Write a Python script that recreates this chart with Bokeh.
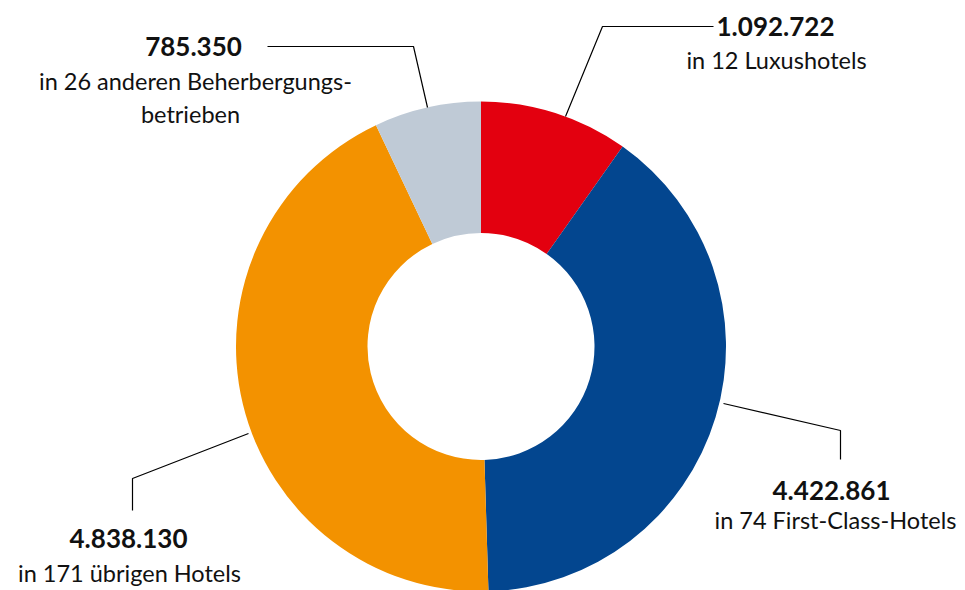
import numpy as np
from bokeh.plotting import figure
from bokeh.models import Range1d, ColumnDataSource
from bokeh.core.properties import value
from bokeh.embed import file_html
from bokeh.resources import INLINE

# ---- data ----
categories = ["Luxushotels", "First-Class-Hotels", "übrige Hotels", "andere Beherbergungsbetriebe"]
values = [1092722, 4422861, 4838130, 785350]
numbers = ["1.092.722", "4.422.861", "4.838.130", "785.350"]
subtitles = [["in 12 Luxushotels"], ["in 74 First-Class-Hotels"], ["in 171 übrigen Hotels"],
             ["in 26 anderen Beherbergungs-", "betrieben"]]
colors = ["#E3000F", "#03468F", "#F39200", "#BFCAD6"]

# ---- layout (reference pixel coordinates, y downward) ----
W, H = 965, 590
CX, CY = 480.5, 346
R_OUT, R_IN = 245, 113.5
FONT = "Lato"
# leader line points (from slice edge outward)
leaders = [
    [(565, 116), (602, 26), (713, 26)],
    [(723, 403), (840, 430), (840, 459)],
    [(248, 433), (132, 478), (132, 510)],
    [(427, 107), (413, 46), (267, 46)],
]
label_pos = [(775, 26), (831, 490), (128, 538), (193, 46)]
sub_pos = [(776, 59), (835, 519), (129, 572), (195, 80)]
line_gap = 33


def fy(y):
    return H - y


p = figure(width=W, height=H, output_backend="svg", toolbar_location=None,
           x_range=Range1d(0, W), y_range=Range1d(0, H),
           min_border=0, outline_line_color=None)
p.axis.visible = False
p.grid.visible = False
p.background_fill_color = "white"

total = float(sum(values))
frac = np.array(values) / total
ends = np.cumsum(frac)
starts = ends - frac
src = ColumnDataSource(dict(
    start=np.pi / 2 - 2 * np.pi * starts,
    end=np.pi / 2 - 2 * np.pi * ends,
    color=colors,
))
p.annular_wedge(x=CX, y=fy(CY), inner_radius=R_IN, outer_radius=R_OUT,
                start_angle="start", end_angle="end", direction="clock",
                fill_color="color", line_color=None, source=src)

for pts in leaders:
    p.line([q[0] for q in pts], [fy(q[1]) for q in pts], line_color="black", line_width=1.2)

for i in range(len(values)):
    lx, ly = label_pos[i]
    p.text(x=[lx], y=[fy(ly)], text=[numbers[i]], text_font=value(FONT),
           text_font_style="bold", text_font_size="26px", text_color="#111111",
           text_align="center", text_baseline="middle")
    sx, sy = sub_pos[i]
    for j, s in enumerate(subtitles[i]):
        xx = sx if j == 0 else sx - 5
        p.text(x=[xx], y=[fy(sy + j * line_gap)], text=[s],
               text_font=value(FONT), text_font_size="23.5px", text_color="#111111",
               text_align="center", text_baseline="middle")

open("out.html", "w").write(file_html(p, INLINE))
